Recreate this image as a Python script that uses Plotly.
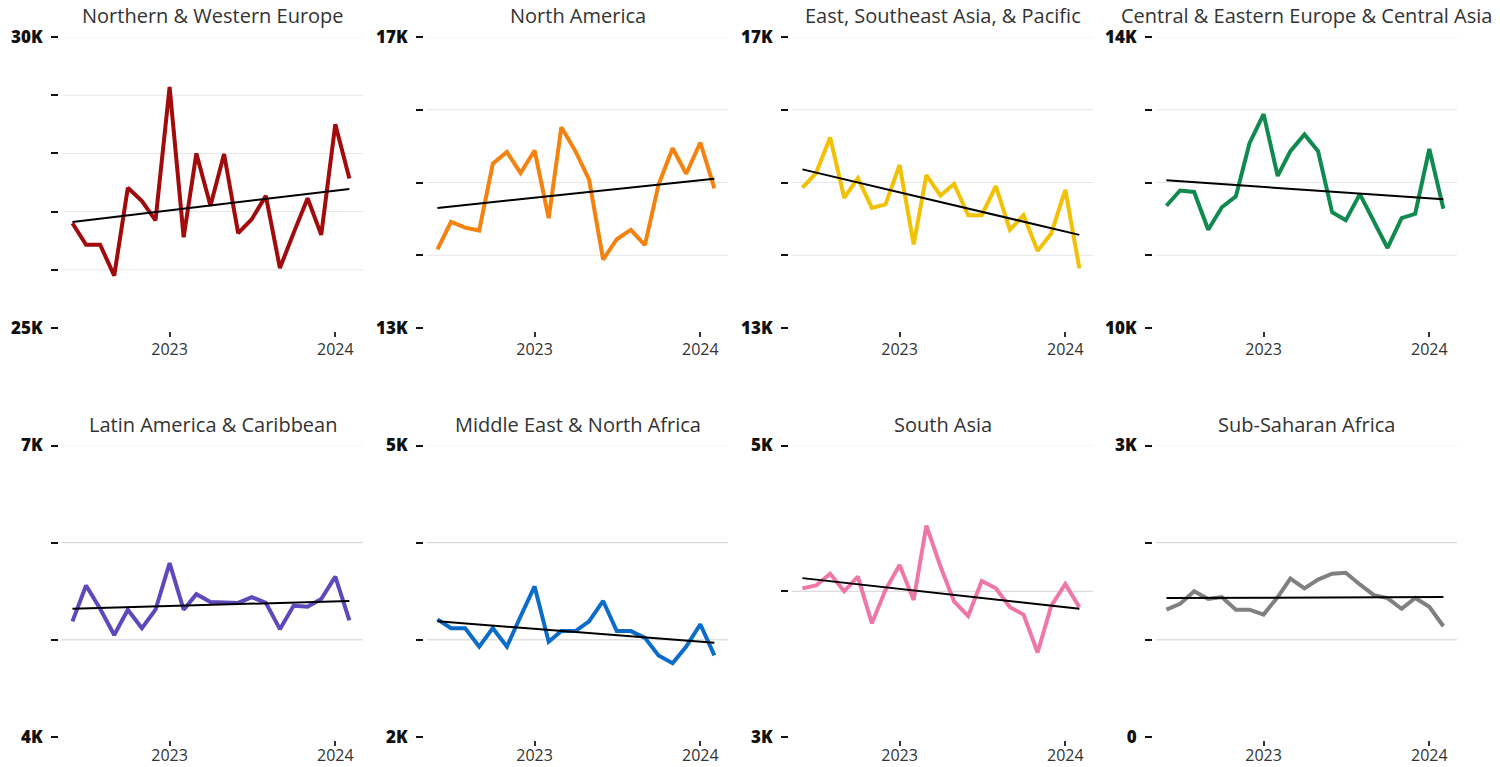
import plotly.graph_objects as go

# ---------------- data ----------------
months = ["2022-06-01", "2022-07-01", "2022-08-01", "2022-09-01", "2022-10-01", "2022-11-01",
          "2022-12-01", "2023-01-01", "2023-02-01", "2023-03-01", "2023-04-01", "2023-05-01",
          "2023-06-01", "2023-07-01", "2023-08-01", "2023-09-01", "2023-10-01", "2023-11-01",
          "2023-12-01", "2024-01-01", "2024-02-01"]

titles = ["Northern & Western Europe", "North America", "East, Southeast Asia, & Pacific",
          "Central & Eastern Europe & Central Asia", "Latin America & Caribbean",
          "Middle East & North Africa", "South Asia", "Sub-Saharan Africa"]

nwe = [26800, 26430, 26430, 25900, 27410, 27180, 26850, 29140, 26560, 28000, 27100, 27990,
       26630, 26870, 27270, 26030, 26630, 27230, 26600, 28500, 27570]
nam = [14080, 14460, 14380, 14340, 15260, 15420, 15130, 15440, 14510, 15760, 15430, 15040,
       13940, 14220, 14350, 14140, 14970, 15470, 15120, 15550, 14920]
esap = [14930, 15130, 15620, 14790, 15060, 14650, 14700, 15240, 14150, 15100, 14820, 14980,
        14550, 14550, 14950, 14350, 14550, 14060, 14300, 14900, 13820]
ceeca = [11680, 11890, 11870, 11350, 11660, 11810, 12540, 12940, 12090, 12430, 12660, 12430,
         11590, 11480, 11840, 11470, 11100, 11510, 11570, 12460, 11640]
lac = [5190, 5560, 5320, 5050, 5310, 5120, 5310, 5790, 5310, 5470, 5390, 5390,
       5380, 5440, 5380, 5110, 5350, 5340, 5420, 5650, 5200]
mena = [3210, 3120, 3120, 2930, 3120, 2930, 3240, 3550, 2980, 3090, 3090, 3190,
        3400, 3090, 3090, 3020, 2840, 2760, 2930, 3160, 2840]
sasia = [4020, 4040, 4120, 4000, 4100, 3780, 4010, 4180, 3940, 4450, 4170, 3930,
         3830, 4070, 4020, 3890, 3840, 3580, 3900, 4050, 3890]
ssa = [1310, 1370, 1500, 1420, 1440, 1310, 1310, 1260, 1440, 1630, 1530, 1620,
       1680, 1690, 1570, 1460, 1430, 1320, 1430, 1340, 1140]

trend_start = [26820, 14650, 15180, 12030, 5320, 3190, 4090, 1430]
trend_end = [27390, 15050, 14280, 11770, 5400, 2970, 3880, 1440]

y_lo = [25000, 13000, 13000, 10000, 4000, 2000, 3000, 0]
y_hi = [30000, 17000, 17000, 14000, 7000, 5000, 5000, 3000]
lo_labels = ["25K", "13K", "13K", "10K", "4K", "2K", "3K", "0"]
hi_labels = ["30K", "17K", "17K", "14K", "7K", "5K", "5K", "3K"]

x_ticks = ["2023-01-01", "2024-01-01"]
x_tick_labels = ["2023", "2024"]

series = [nwe, nam, esap, ceeca, lac, mena, sasia, ssa]

# ---------------- style ----------------
colors = ["#a10b0b", "#f5820f", "#f2c004", "#108a4e", "#5f48bb", "#0b6cc9", "#ef77a7", "#808080"]
FONT = "Open Sans"
W, H = 1500, 767
col_left = [62, 427, 792, 1156]
panel_w = 301
row_top = [37, 445.5]
row_bot = [328, 737]
title_y = [16, 425]
grid_colors = ["#e6e6e6", "#d2d2d2"]
x_label_standoff = [-1, -4]

fig = go.Figure()
layout = dict(
    width=W, height=H, margin=dict(l=0, r=0, t=0, b=0, autoexpand=False),
    paper_bgcolor="white", plot_bgcolor="white", showlegend=False,
    font=dict(family=FONT, color="#333333"),
)
shapes = []
annotations = []

for i in range(8):
    r, c = divmod(i, 4)
    n = i + 1
    xname = "xaxis" if n == 1 else f"xaxis{n}"
    yname = "yaxis" if n == 1 else f"yaxis{n}"
    xref = "x" if n == 1 else f"x{n}"
    yref = "y" if n == 1 else f"y{n}"
    left = col_left[c]
    xd = [left / W, (left + panel_w) / W]
    yd = [1 - row_bot[r] / H, 1 - row_top[r] / H]

    tickvals = list(range(y_lo[i], y_hi[i] + 1, 1000))
    ticktext = [""] * len(tickvals)
    ticktext[0] = lo_labels[i]
    ticktext[-1] = hi_labels[i]

    layout[xname] = dict(
        domain=xd, type="date", range=["2022-05-09", "2024-03-02"],
        tickvals=x_ticks, ticktext=x_tick_labels,
        ticks="outside", ticklen=5, tickwidth=1.5, tickcolor="#333333",
        showgrid=False, zeroline=False, showline=False,
        anchor="free", position=1 - (row_bot[r] + 3) / H,
        tickfont=dict(family=FONT, size=16, color="#333333"),
        ticklabelstandoff=x_label_standoff[r],
        automargin=False, fixedrange=True,
    )
    layout[yname] = dict(
        domain=yd, range=[y_lo[i], y_hi[i]],
        tickvals=tickvals, ticktext=ticktext,
        ticks="outside", ticklen=7, tickwidth=2, tickcolor="#111111",
        showgrid=False, zeroline=False, showline=False,
        anchor="free", position=(left - 4) / W,
        tickfont=dict(family=FONT, size=17, color="#111111", weight=800),
        ticklabelstandoff=5,
        automargin=False, fixedrange=True,
    )
    for v in tickvals[1:]:
        shapes.append(dict(type="line", xref=f"{xref} domain", yref=yref,
                           x0=0, x1=1, y0=v, y1=v, layer="below",
                           line=dict(color=grid_colors[r] if v != tickvals[-1] else "#ececec", width=1)))
    annotations.append(dict(
        text=titles[i], xref="paper", yref="paper",
        x=(left + panel_w / 2) / W, y=1 - title_y[r] / H,
        xanchor="center", yanchor="middle", showarrow=False,
        font=dict(family=FONT, size=20, color="#333333"),
    ))

    fig.add_trace(go.Scatter(
        x=months, y=series[i], mode="lines", xaxis=xref, yaxis=yref,
        line=dict(color=colors[i], width=4), hoverinfo="x+y",
    ))
    fig.add_trace(go.Scatter(
        x=[months[0], months[-1]], y=[trend_start[i], trend_end[i]],
        mode="lines", xaxis=xref, yaxis=yref,
        line=dict(color="#000000", width=2), hoverinfo="skip",
    ))

layout["shapes"] = shapes
layout["annotations"] = annotations
fig.update_layout(**layout)
fig.write_html(
    "out.html",
    config={"displayModeBar": False},
    post_script="document.body.style.margin='0';document.body.style.overflow='hidden';",
)
